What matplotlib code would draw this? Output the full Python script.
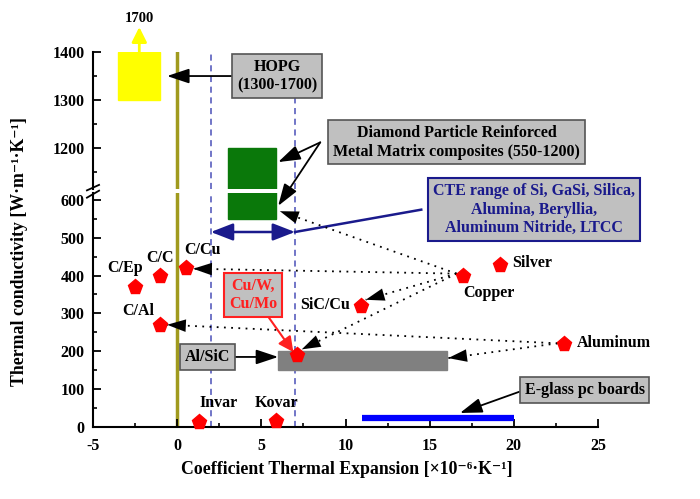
import numpy as np
import matplotlib.pyplot as plt
from matplotlib.patches import Rectangle
from matplotlib.ticker import MultipleLocator

# Données
materials = ['C/Ep', 'C/C', 'C/Cu', 'C/Al', 'Cu/W', 'Invar', 'Kovar',
             'SiC/Cu', 'Copper', 'Silver', 'Aluminum']
cte = [-2.5, -1.0, 0.5, -1.0, 7.1, 1.3, 5.9, 10.9, 17.0, 19.2, 23.0]
kth = [370, 400, 420, 270, 190, 13, 17, 320, 400, 428, 220]

hopg_cte = [-3.5, -1.0]
hopg_k = [1300, 1400]
diamond_cte = [3.0, 5.9]
diamond_k = [550, 1200]
alsic_cte = [6.0, 16.0]
alsic_k = [150, 200]
eglass_cte = [11.0, 20.0]
eglass_k = 24
cte_si = [2.0, 7.0]

plt.rcParams['font.family'] = ['Liberation Serif', 'DejaVu Serif']
plt.rcParams['font.weight'] = 'bold'
plt.rcParams['axes.linewidth'] = 1.5
plt.rcParams['axes.unicode_minus'] = False

fig = plt.figure(figsize=(7, 4.99), dpi=100)
W, H = 700, 499
ax_bot = fig.add_axes([93 / W, 1 - 427 / H, 505 / W, (427 - 193) / H])
ax_top = fig.add_axes([93 / W, 1 - 189 / H, 505 / W, (189 - 52) / H])
ax_top.patch.set_visible(False)

ax_bot.set_xlim(-5, 25)
ax_top.set_xlim(-5, 25)
ax_bot.set_ylim(0, 618)
ax_top.set_ylim(1115, 1400)

for ax in (ax_bot, ax_top):
    ax.spines['right'].set_visible(False)
    ax.spines['top'].set_visible(False)
    ax.tick_params(direction='in', which='major', length=6, width=1.3, labelsize=11.5)
    ax.tick_params(direction='in', which='minor', length=3, width=1.2)
    ax.tick_params(axis='y', pad=6)
    ax.tick_params(axis='x', pad=8)
    ax.axvline(0, color='#a09a1e', lw=2.5, zorder=1)
    for xv in cte_si:
        ax.axvline(xv, color='#4a50b8', lw=1.1, ls=(0, (4, 3)), zorder=1)
    # composites diamant
    ax.add_patch(Rectangle((diamond_cte[0], diamond_k[0]), diamond_cte[1] - diamond_cte[0],
                           diamond_k[1] - diamond_k[0], color='#0a780a', zorder=2))

ax_top.spines['bottom'].set_visible(False)
ax_top.tick_params(axis='x', which='both', bottom=False, labelbottom=False)
ax_top.set_yticks([1200, 1300, 1400])
ax_top.yaxis.set_minor_locator(MultipleLocator(50))
ax_bot.yaxis.set_major_locator(MultipleLocator(100))
ax_bot.yaxis.set_minor_locator(MultipleLocator(50))
ax_bot.xaxis.set_major_locator(MultipleLocator(5))
ax_bot.xaxis.set_minor_locator(MultipleLocator(2.5))

# marques de rupture
d = 0.012
ax_bot.plot([-d, d], [1 - 0.02, 1 + 0.01], transform=ax_bot.transAxes, color='k', lw=1.3, clip_on=False)
ax_top.plot([-d, d], [-0.01, 0.03], transform=ax_top.transAxes, color='k', lw=1.3, clip_on=False)

# HOPG
ax_top.add_patch(Rectangle((hopg_cte[0], hopg_k[0]), hopg_cte[1] - hopg_cte[0],
                           hopg_k[1] - hopg_k[0], color='#ffff00', zorder=2))
xc = np.mean(hopg_cte)
ax_top.annotate('', xy=(xc, 1452), xytext=(xc, 1400), annotation_clip=False,
                arrowprops=dict(arrowstyle='-|>,head_length=0.6,head_width=0.3', color='#ffff00',
                                lw=2, shrinkA=0, shrinkB=0, mutation_scale=15))
ax_top.text(xc, 1470, '1700', ha='center', va='center', fontsize=10.5, fontweight='bold', clip_on=False)

FS = 11.5
gray = dict(boxstyle='square,pad=0.3', fc='#c0c0c0', ec='#555555', lw=1.2)
head = dict(arrowstyle='-|>,head_length=0.9,head_width=0.3', color='k', lw=1.3,
            shrinkA=0, shrinkB=0, mutation_scale=15)

ax_top.annotate('HOPG\n(1300-1700)', xy=(-0.6, 1350), xytext=(5.95, 1350), ha='center', va='center',
                fontsize=FS, fontweight='bold', bbox=gray, arrowprops=head)

# Diamond box
ax_top.text(16.6, 1212, 'Diamond Particle Reinforced\nMetal Matrix composites (550-1200)',
            ha='center', va='center', fontsize=FS, fontweight='bold', bbox=gray, zorder=6)
ax_top.annotate('', xy=(6.0, 1171), xytext=(8.5, 1212), arrowprops=head)
ax_bot.annotate('', xy=(6.0, 584), xytext=(8.5, 1212), textcoords=ax_top.transData,
                arrowprops=head, annotation_clip=False)

# CTE range
navy = '#1a1a8c'
ax_bot.annotate('', xy=(cte_si[0], 515), xytext=(cte_si[1], 515),
                arrowprops=dict(arrowstyle='<|-|>,head_length=0.9,head_width=0.35', color=navy,
                                lw=1.8, shrinkA=0, shrinkB=0, mutation_scale=15))
ax_bot.plot([cte_si[1], 14.5], [515, 574], color=navy, lw=1.8, clip_on=False)
ax_bot.text(21.2, 574, 'CTE range of Si, GaSi, Silica,\nAlumina, Beryllia,\nAluminum Nitride, LTCC',
            ha='center', va='center', color=navy, fontsize=FS, fontweight='bold',
            bbox=dict(boxstyle='square,pad=0.3', fc='#c0c0c0', ec=navy, lw=1.5))

# Al/SiC and E-glass
ax_bot.add_patch(Rectangle((alsic_cte[0], alsic_k[0]), alsic_cte[1] - alsic_cte[0],
                           alsic_k[1] - alsic_k[0], color='#808080', zorder=2))
ax_bot.plot(eglass_cte, [eglass_k, eglass_k], color='#0000ff', lw=4.5, solid_capstyle='butt', zorder=2)

ax_bot.annotate('Al/SiC', xy=(6.0, 185), xytext=(1.8, 185), ha='center', va='center',
                fontsize=FS, fontweight='bold', bbox=gray, arrowprops=head)
ax_bot.annotate('E-glass pc boards', xy=(16.8, 37), xytext=(24.2, 98), ha='center', va='center',
                fontsize=FS, fontweight='bold', bbox=gray, annotation_clip=False,
                arrowprops=dict(head, relpos=(0, 0.5)))


# liens pointillés avec pointe pleine
def dotted_link(start, tip):
    ax_bot.plot([start[0], tip[0]], [start[1], tip[1]], color='k', lw=1.3,
                ls=(0, (1, 3)), zorder=3)
    p0 = ax_bot.transData.transform(start)
    p1 = ax_bot.transData.transform(tip)
    u = (p0 - p1) / np.hypot(*(p0 - p1))
    back = ax_bot.transData.inverted().transform(p1 + 22 * u)
    ax_bot.annotate('', xy=tip, xytext=back,
                    arrowprops=dict(arrowstyle='-|>,head_length=0.9,head_width=0.3', color='k',
                                    lw=0.01, shrinkA=0, shrinkB=0, mutation_scale=15))


copper_links = [(0.95, 418), (6.1, 570), (11.2, 336), (7.4, 205)]
for tip in copper_links:
    dotted_link((16.6, 405), tip)
for tip in [(-0.6, 270), (16.1, 182)]:
    dotted_link((22.6, 221), tip)

# Cu/W box
ax_bot.annotate('Cu/W,\nCu/Mo', xy=(6.9, 198), xytext=(4.5, 349), ha='center', va='center',
                color='#ff2020', fontsize=FS, fontweight='bold',
                bbox=dict(boxstyle='square,pad=0.3', fc='#c0c0c0', ec='#ff2020', lw=1.5),
                arrowprops=dict(arrowstyle='-|>,head_length=0.6,head_width=0.3', color='#ff2020',
                                lw=1.5, shrinkA=0, shrinkB=0, mutation_scale=15, relpos=(0.75, 0)))

# points
ax_bot.plot(cte, kth, 'p', color='#ff0000', ms=11, zorder=5, clip_on=False)

label_pos = {'C/Ep': (-3.1, 420, 'center'), 'C/C': (-1.0, 447, 'center'),
             'C/Cu': (1.5, 468, 'center'), 'C/Al': (-2.3, 307, 'center'),
             'Invar': (2.45, 63, 'center'), 'Kovar': (5.9, 63, 'center'),
             'SiC/Cu': (10.3, 322, 'right'), 'Copper': (18.5, 354, 'center'),
             'Silver': (19.9, 433, 'left'), 'Aluminum': (23.75, 222, 'left')}
for name, (x, y, ha) in label_pos.items():
    ax_bot.text(x, y, name, ha=ha, va='center', fontsize=FS, fontweight='bold')

fig.text(20 / W, 1 - 252 / H, 'Thermal conductivity [W·m⁻¹·K⁻¹]', rotation=90,
         ha='center', va='center', fontsize=12.8, fontweight='bold')
fig.text(347 / W, 1 - 469 / H, 'Coefficient Thermal Expansion [×10⁻⁶·K⁻¹]',
         ha='center', va='center', fontsize=12.8, fontweight='bold')

fig.savefig('out.png', dpi=100)
